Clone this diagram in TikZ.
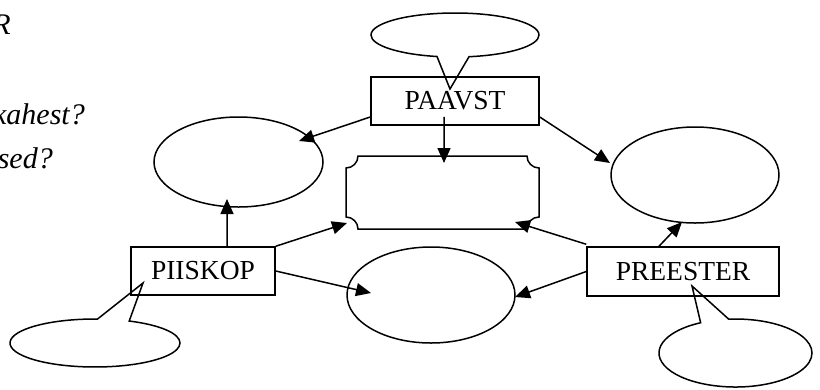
\documentclass[tikz,border=0pt]{standalone}
\usepackage{fontspec}
\setmainfont{Liberation Serif}
\usetikzlibrary{shapes.geometric,shapes.callouts,arrows.meta}
\begin{document}
\begin{tikzpicture}[x=1bp,y=-1bp,
  lw/.style={line width=1.5bp},
  box/.style={lw,draw,rectangle,inner sep=0pt,font=\fontsize{27.5bp}{33bp}\selectfont},
  oval/.style={lw,draw,ellipse,inner sep=0pt},
  bubble/.style={lw,draw,fill=white,ellipse callout,inner sep=0pt,callout pointer arc=22},
  arr/.style={lw,-{Triangle[length=15bp,width=13bp]}},
  itxt/.style={inner sep=0pt,font=\fontsize{30bp}{36bp}\selectfont\itshape}]
\useasboundingbox (0,0) rectangle (820,389);
% stray italic text at left
\node[itxt,anchor=base east] (r) at (11,34) {R};
\node[itxt,anchor=base east] (k) at (85,124) {kahest?};
\node[itxt,anchor=base east] (s) at (53,168) {sed?};
% callouts
\node[bubble,minimum width=168bp,minimum height=44bp,callout absolute pointer={(450,89)}] (cpa) at (455,35) {};
\node[bubble,minimum width=170bp,minimum height=48bp,callout absolute pointer={(143,283)}] (cpi) at (95,343) {};
\node[bubble,minimum width=153bp,minimum height=68bp,callout absolute pointer={(692,286)}] (cpr) at (735.5,353) {};
% boxes
\node[box,minimum width=168bp,minimum height=48bp] (pa) at (455,101) {PAAVST};
\node[box,minimum width=144bp,minimum height=48bp] (pi) at (203,271) {PIISKOP};
\node[box,minimum width=192bp,minimum height=49bp] (pr) at (683,271.5) {PREESTER};
% ellipses
\node[oval,minimum width=169bp,minimum height=90bp] (le) at (238.5,162) {};
\node[oval,minimum width=168bp,minimum height=96bp] (re) at (695,175) {};
\node[oval,minimum width=168bp,minimum height=96bp] (be) at (431,295) {};
% plaque
\node[rectangle,minimum width=193bp,minimum height=73bp,inner sep=0pt] (pl) at (442.5,192.5) {};
\draw[lw] (358,156) -- (527,156) arc[start angle=180,end angle=90,radius=12]
  -- (539,217) arc[start angle=270,end angle=180,radius=12]
  -- (358,229) arc[start angle=0,end angle=-90,radius=12]
  -- (346,168) arc[start angle=90,end angle=0,radius=12] -- cycle;
% arrow tips
\coordinate (t1) at (299,141);
\coordinate (t2) at (610,163);
\coordinate (t3) at (444,163);
\coordinate (t4) at (227,199);
\coordinate (t5) at (347,223);
\coordinate (t6) at (371,293);
\coordinate (t7) at (515,222);
\coordinate (t8) at (515,297);
\coordinate (t9) at (682,222);
% connectors
\draw[arr] ([yshift=-16bp]pa.west) -- (t1);
\draw[arr] ([yshift=-16bp]pa.east) -- (t2);
\draw[arr] ([xshift=-11bp,yshift=9bp]pa.south) -- (t3);
\draw[arr] ([xshift=24bp]pi.north) -- (t4);
\draw[arr] (pi.north east) -- (t5);
\draw[arr] (pi.east) -- (t6);
\draw[arr] ([yshift=2bp]pr.north west) -- (t7);
\draw[arr] (pr.west) -- (t8);
\draw[arr] ([xshift=-24bp]pr.north) -- (t9);
\end{tikzpicture}
\end{document}
